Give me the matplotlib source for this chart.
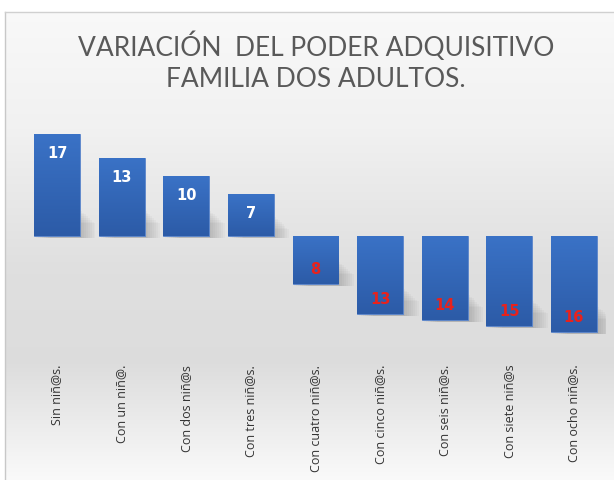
import numpy as np
import matplotlib
matplotlib.use('Agg')
import matplotlib.pyplot as plt

# Data
categories = ['Sin niñ@s.', 'Con un niñ@.', 'Con dos niñ@s', 'Con tres niñ@s.',
              'Con cuatro niñ@s.', 'Con cinco niñ@s.', 'Con seis niñ@s.',
              'Con siete niñ@s', 'Con ocho niñ@s.']
values = [17, 13, 10, 7, -8, -13, -14, -15, -16]
title = 'VARIACIÓN  DEL PODER ADQUISITIVO\nFAMILIA DOS ADULTOS.'

W, H = 614, 480
fig = plt.figure(figsize=(W / 100, H / 100), dpi=100)
fig.patch.set_facecolor('white')

# Background panel with vertical gradient
bg = fig.add_axes([5 / W, 0, 1 - 5 / W, 1 - 12 / H])
bg.set_axis_off()
stops_y = [0.0, 0.25, 0.55, 0.75, 1.0]
stops_c = [0.975, 0.945, 0.875, 0.865, 0.98]
yy = np.linspace(0, 1, 256)
shade = np.interp(yy, stops_y, stops_c)
img = np.repeat(shade[:, None], 2, axis=1)
bg.imshow(np.dstack([img, img, img]), aspect='auto', extent=[0, 1, 1, 0],
          interpolation='bilinear')
bg.set_xlim(0, 1)
bg.set_ylim(1, 0)
fig.add_artist(plt.Line2D([5 / W, 5 / W], [0, 1 - 12 / H], color='#c8c8c8', lw=1))
fig.add_artist(plt.Line2D([5 / W, 1], [1 - 12 / H, 1 - 12 / H], color='#d0d0d0', lw=1))

# Title
fig.text(316 / W, 1 - 62 / H, title, ha='center', va='center', fontsize=19,
         color='#595959', family='Lato', linespacing=1.3)

# Main bar axes
ax = fig.add_axes([24.7 / W, 1 - 344 / H, (606.3 - 24.7) / W, (344 - 122) / H])
ax.patch.set_alpha(0)
x = np.arange(len(values))
ax.set_xlim(-0.5, len(values) - 0.5)
ax.set_ylim(-18, 19)
for s in ax.spines.values():
    s.set_visible(False)
ax.set_yticks([])

# soft shadows near the lower end of each bar
for i in range(8):
    dx = 0.03 * (i + 1)
    sh_h = [min(abs(v) * 0.5, 4.5) - 0.3 * i for v in values]
    sh_bottom = [(0 if v > 0 else v) - 0.3 for v in values]
    ax.bar(x + dx, sh_h, width=0.71, bottom=sh_bottom,
           color='black', alpha=0.025, zorder=1, linewidth=0)

bars = ax.bar(x, values, width=0.71, color='#3566b8', edgecolor='#5b86cc',
              linewidth=0.6, zorder=2)

grad = np.linspace(0, 1, 100)[:, None]
cmap = matplotlib.colors.LinearSegmentedColormap.from_list('g', ['#2c5ba7', '#3a72c6'])
for b in bars:
    x0, y0 = b.get_x(), b.get_y()
    w, h = b.get_width(), b.get_height()
    y_lo, y_hi = min(y0, y0 + h), max(y0, y0 + h)
    im = ax.imshow(grad, cmap=cmap, aspect='auto', origin='lower',
                   extent=[x0, x0 + w, y_lo, y_hi], zorder=3)
    im.set_clip_path(b)

ax.set_xlim(-0.5, len(values) - 0.5)
ax.set_ylim(-18, 19)

for xi, v in zip(x, values):
    if v > 0:
        ax.text(xi, v - 3.2, str(v), ha='center', va='center', color='white',
                fontsize=10.5, fontweight='bold', zorder=5)
    else:
        ax.text(xi, v + 2.4, str(abs(v)), ha='center', va='center', color='#e8221c',
                fontsize=10.5, fontweight='bold', zorder=5)

ax.set_xticks(x)
ax.set_xticklabels(categories, rotation=90, fontsize=9, color='#333333',
                   family='Open Sans')
ax.tick_params(axis='x', length=0, pad=15)

fig.savefig('out.png', dpi=100)
